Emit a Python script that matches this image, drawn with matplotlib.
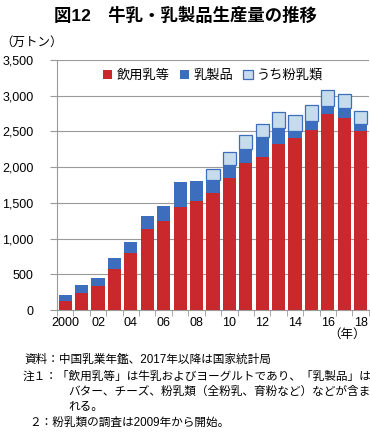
import numpy as np
import matplotlib.pyplot as plt

plt.rcParams['font.family'] = ['Liberation Sans', 'Noto Sans CJK JP']

years = list(range(2000, 2019))
# 単位：万トン
drink = [130, 240, 342, 578, 800, 1139, 1240, 1439, 1522, 1633,
         1842, 2060, 2147, 2328, 2407, 2522, 2740, 2689, 2504]
dairy_other = [80, 110, 102, 144, 149, 171, 222, 347, 288, 186,
               186, 190, 270, 218, 93, 121, 121, 135, 97]
powder = [0, 0, 0, 0, 0, 0, 0, 0, 0, 153,
          180, 199, 189, 232, 236, 222, 222, 204, 191]
tick_labels = ['2000', '02', '04', '06', '08', '10', '12', '14', '16', '18']

red = '#c9282d'
blue = '#3d6dbd'
light = '#c6dcec'

fig = plt.figure(figsize=(3.7, 4.32), dpi=100)
ax = fig.add_axes([0.154, 0.2824, 0.843, 0.5786])

x = np.arange(len(years))
b1 = ax.bar(x, drink, width=0.8, color=red, zorder=3, label='飲用乳等')
b2 = ax.bar(x, dairy_other, width=0.8, bottom=drink, color=blue, zorder=3,
            label='乳製品')
bottom2 = np.array(drink) + np.array(dairy_other)
pw = np.array(powder)
b3 = ax.bar(x[pw > 0], pw[pw > 0], width=0.8, bottom=bottom2[pw > 0],
            color=light, edgecolor=blue, linewidth=0.9, zorder=3,
            label='うち粉乳類')

ax.set_xlim(-0.5, len(years) - 0.5)
ax.set_ylim(0, 3500)
ax.set_yticks(np.arange(0, 3501, 500))
ax.set_yticklabels(['{:,}'.format(v) for v in range(0, 3501, 500)])
ax.grid(axis='y', color='#9a9a9a', linewidth=0.8, zorder=0)
ax.tick_params(axis='y', length=5, color='#9a9a9a', labelsize=9, pad=12)

ax.set_xticks(np.arange(-0.5, len(years), 1), minor=True)
ax.set_xticks(x[::2])
ax.set_xticklabels(tick_labels)
ax.tick_params(axis='x', which='major', length=0, labelsize=9, pad=5)
ax.tick_params(axis='x', which='minor', length=4, color='#9a9a9a')

for s in ['top', 'right']:
    ax.spines[s].set_visible(False)
ax.spines['left'].set_color('#9a9a9a')
ax.spines['bottom'].set_color('#9a9a9a')

ax.legend(handles=[b1, b2, b3], loc='upper center', bbox_to_anchor=(0.5, 1.01),
          ncol=3, frameon=False, fontsize=9.5, handlelength=0.7,
          handleheight=0.7, handletextpad=0.3, columnspacing=0.8)

fig.text(0.5, 0.965, '図12　牛乳・乳製品生産量の推移', ha='center', va='center',
         fontsize=12.5, fontweight='bold')
fig.text(0.0, 0.902, '（万トン）', ha='left', va='center', fontsize=9)
fig.text(0.988, 0.224, '（年）', ha='right', va='center', fontsize=9)

notes = [
    (0.065, 0.167, '資料：中国乳業年鑑、2017年以降は国家統計局'),
    (0.06, 0.127, '注１：「飲用乳等」は牛乳およびヨーグルトであり、「乳製品」は'),
    (0.184, 0.092, 'バター、チーズ、粉乳類（全粉乳、育粉など）などが含ま'),
    (0.184, 0.057, 'れる。'),
    (0.08, 0.022, '２：粉乳類の調査は2009年から開始。'),
]
for nx, ny, t in notes:
    fig.text(nx, ny, t, ha='left', va='center', fontsize=8.4)

plt.savefig('out.png', dpi=100)
